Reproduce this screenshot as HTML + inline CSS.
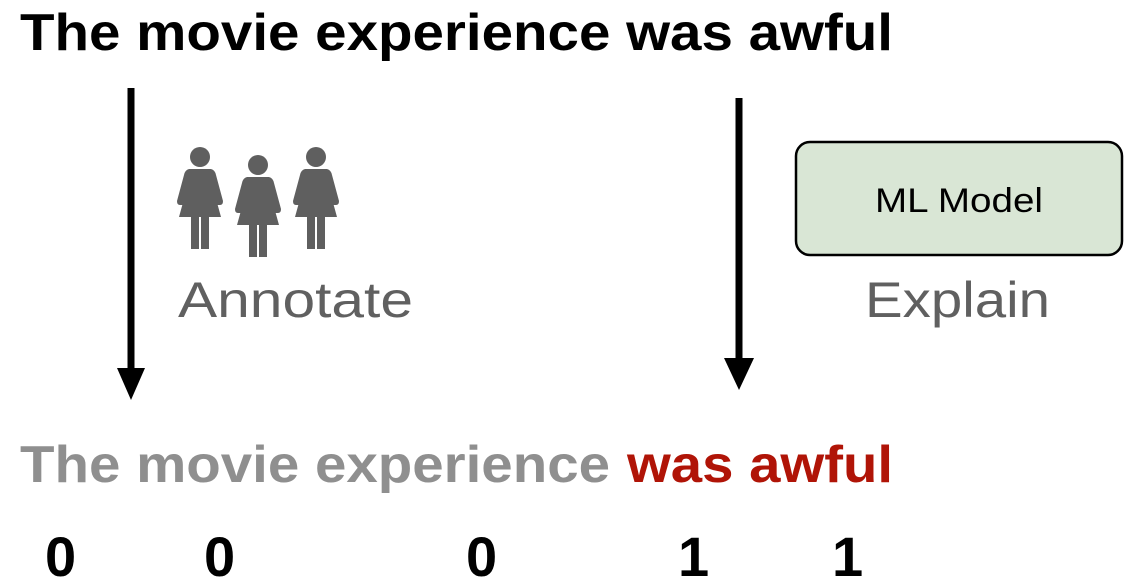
<!DOCTYPE html>
<html><head><meta charset="utf-8"><style>
html,body{margin:0;padding:0;background:#fff;width:1136px;height:585px;overflow:hidden}
</style></head><body>
<svg width="1136" height="585" viewBox="0 0 1136 585" xmlns="http://www.w3.org/2000/svg" font-family="Liberation Sans, sans-serif">
<text x="20" y="50" font-size="52" font-weight="bold" fill="#000" textLength="873" lengthAdjust="spacingAndGlyphs">The movie experience was awful</text>
<line x1="131" y1="88" x2="131" y2="372" stroke="#000" stroke-width="7"/>
<polygon points="117,368 145,368 131,400" fill="#000"/>
<line x1="739" y1="98" x2="739" y2="362" stroke="#000" stroke-width="7"/>
<polygon points="724,358 754,358 739,390" fill="#000"/>
<g fill="#5f5f5f">
<g id="p" transform="translate(200,157)">
<circle cx="0" cy="0" r="10"/>
<path d="M-11,12 L11,12 Q15,13 16,18 L23,44 Q23,48 20,48 L17,48 L13,31 L21,60 L9,60 L9,92 L1,92 L1,60 L-1,60 L-1,92 L-9,92 L-9,60 L-21,60 L-13,31 L-17,48 L-20,48 Q-23,48 -23,44 L-16,18 Q-15,13 -11,12 Z"/>
</g>
<use href="#p" transform="translate(58,8)"/>
<use href="#p" transform="translate(116,0)"/>
</g>
<text x="178" y="317" font-size="50" fill="#606060" textLength="235" lengthAdjust="spacingAndGlyphs">Annotate</text>
<rect x="796" y="142" width="326" height="113" rx="14" fill="#d9e6d5" stroke="#000" stroke-width="2.5"/>
<text x="959" y="212" font-size="34" fill="#000" text-anchor="middle" textLength="168" lengthAdjust="spacingAndGlyphs">ML Model</text>
<text x="865" y="317" font-size="50" fill="#606060" textLength="185" lengthAdjust="spacingAndGlyphs">Explain</text>
<text x="20" y="482" font-size="52" font-weight="bold" fill="#8f8f8f" textLength="590" lengthAdjust="spacingAndGlyphs">The movie experience</text>
<text x="627" y="482" font-size="52" font-weight="bold" fill="#b01407" textLength="266" lengthAdjust="spacingAndGlyphs">was awful</text>
<g font-size="56" font-weight="bold" fill="#000">
<text x="45" y="576">0</text>
<text x="204" y="576">0</text>
<text x="466" y="576">0</text>
<text x="678" y="576">1</text>
<text x="832" y="576">1</text>
</g>
</svg>
</body></html>
